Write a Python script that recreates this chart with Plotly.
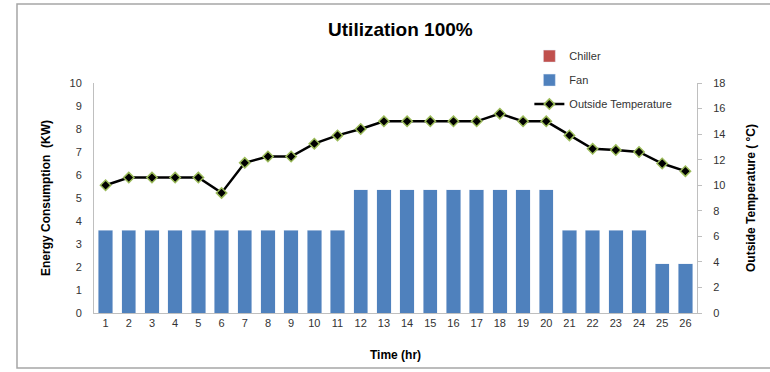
import plotly.graph_objects as go

hours = list(range(1, 27))
fan_kw = [3.6] * 11 + [5.35] * 9 + [3.6] * 4 + [2.15] * 2
chiller_kw = [0] * 26
outside_temp = [10.0, 10.6, 10.6, 10.6, 10.6, 9.4, 11.75, 12.25, 12.25, 13.25,
                13.9, 14.4, 15.0, 15.0, 15.0, 15.0, 15.0, 15.6, 15.0, 15.0,
                13.9, 12.85, 12.75, 12.6, 11.7, 11.1]

font_main = "Liberation Sans"
axis_col = "#BFBFBF"

fig = go.Figure()
fig.add_trace(go.Bar(x=hours, y=chiller_kw, name="Chiller", legendgroup="c",
                     marker=dict(color="#C0504D"), yaxis="y"))
fig.add_trace(go.Bar(x=hours, y=fan_kw, name="Fan", legendgroup="f",
                     marker=dict(color="#4F81BD"), yaxis="y"))
fig.add_trace(go.Scatter(x=hours, y=outside_temp, name="Outside Temperature",
                         legendgroup="t",
                         mode="lines+markers", yaxis="y2",
                         line=dict(color="black", width=2.5),
                         marker=dict(symbol="diamond", size=8, color="black",
                                     line=dict(color="#9BBB59", width=1.5))))

fig.update_layout(
    width=770, height=372,
    margin=dict(l=94, r=73, t=83, b=59),
    paper_bgcolor="white", plot_bgcolor="white",
    barmode="stack", bargap=0.38,
    showlegend=True,
    title=dict(text="<b>Utilization 100%</b>", x=0.52, xanchor="center",
               y=0.92, yanchor="middle",
               font=dict(family=font_main, size=19, color="black")),
    legend=dict(x=0.722, y=1.18, xanchor="left", yanchor="top",
                traceorder="grouped", tracegroupgap=5, itemwidth=30,
                bgcolor="rgba(0,0,0,0)",
                font=dict(family=font_main, size=11, color="#333")),
    xaxis=dict(range=[0.5, 26.5], tickmode="array", tickvals=hours,
               showgrid=False, showline=True, linecolor=axis_col,
               ticks="", zeroline=False,
               tickfont=dict(family=font_main, size=11, color="#333"),
               title=dict(text="<b>Time (hr)</b>", standoff=22,
                          font=dict(family=font_main, size=12, color="black"))),
    yaxis=dict(range=[0, 10], dtick=1, showgrid=False, showline=True,
               linecolor=axis_col, ticks="", zeroline=False,
               ticklabelstandoff=9,
               tickfont=dict(family=font_main, size=11, color="#333"),
               title=dict(text="<b>Energy Consumption  (KW)</b>", standoff=16,
                          font=dict(family=font_main, size=12, color="black"))),
    yaxis2=dict(range=[0, 18], dtick=2, overlaying="y", side="right",
                showgrid=False, showline=True, linecolor=axis_col,
                ticks="outside", ticklen=4, tickcolor=axis_col, zeroline=False,
                ticklabelstandoff=9,
                tickfont=dict(family=font_main, size=11, color="#333"),
                title=dict(text="<b>Outside Temperature ( °C)</b>", standoff=22,
                           font=dict(family=font_main, size=12, color="black"))),
    shapes=[dict(type="rect", xref="paper", yref="paper",
                 x0=-0.1277, x1=1.3, y0=-0.239, y1=1.343,
                 line=dict(color="#A6A6A6", width=1.5), layer="below")],
)

fig.write_html("out.html")
